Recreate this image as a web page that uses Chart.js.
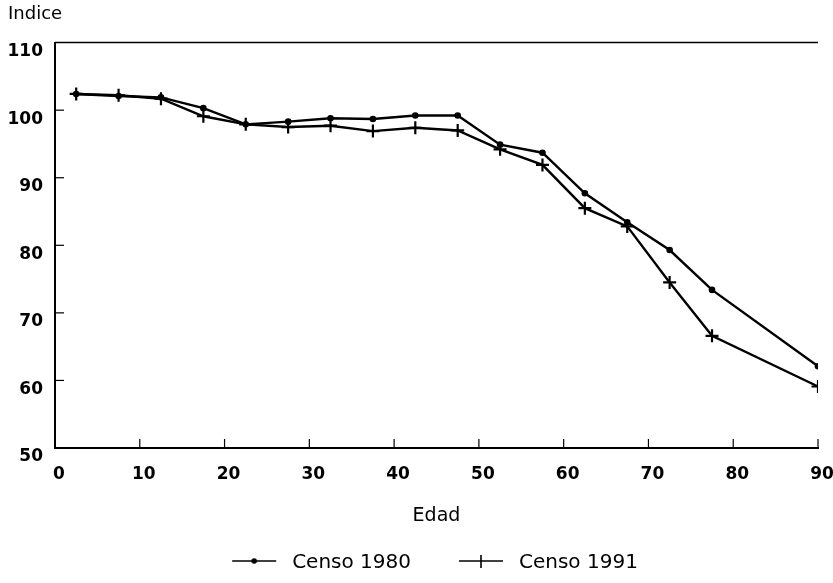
<!DOCTYPE html>
<html>
<head>
<meta charset="utf-8">
<script src="https://cdn.jsdelivr.net/npm/chart.js@4/dist/chart.umd.min.js"></script>
<style>
  html, body { margin: 0; padding: 0; background: #fff; }
  #box { width: 833px; height: 583px; }
</style>
</head>
<body>
<div id="box"><canvas id="chart"></canvas></div>
<script>
// edades (centro del grupo quinquenal) e indices
let edades = [2.5, 7.5, 12.5, 17.5, 22.5, 27.5, 32.5, 37.5, 42.5, 47.5, 52.5, 57.5, 62.5, 67.5, 72.5, 77.5, 90];
let censo1980 = [102.4, 102.1, 101.9, 100.3, 97.9, 98.3, 98.8, 98.7, 99.2, 99.2, 94.9, 93.7, 87.7, 83.4, 79.3, 73.4, 62.1];
let censo1991 = [102.4, 102.2, 101.7, 99.1, 97.9, 97.5, 97.7, 96.9, 97.4, 97.0, 94.2, 91.9, 85.5, 82.8, 74.5, 66.6, 59.1];
let ticksX = [0, 10, 20, 30, 40, 50, 60, 70, 80, 90];
let ticksY = [50, 60, 70, 80, 90, 100, 110];

Chart.defaults.font.family = "DejaVu Sans";
Chart.defaults.color = "#000";

// little pictures for the legend: line with the marker on it
// (blank strip on the left so the items sit where the original has them)
function legendMark(kind)
{
    let c = document.createElement("canvas");
    c.width = 79;
    c.height = 20;
    let g = c.getContext("2d");
    g.strokeStyle = "#000";
    g.fillStyle = "#000";
    g.lineWidth = 1.6;
    g.beginPath();
    g.moveTo(29, 8);
    g.lineTo(73, 8);
    g.stroke();
    if (kind == "circle") {
        g.beginPath();
        g.arc(51, 8, 2.8, 0, Math.PI * 2);
        g.fill();
    } else {
        g.beginPath();
        g.moveTo(51, 2);
        g.lineTo(51, 15);
        g.stroke();
    }
    return c;
}
let marks = [legendMark("circle"), legendMark("cross")];

function toPoints(vals)
{
    let out = [];
    for (let i = 0; i < edades.length; i++) {
        out.push({x: edades[i], y: vals[i]});
    }
    return out;
}

// inward ticks + top frame line
let frame = {
    id: "frame",
    afterDatasetsDraw(chart)
    {
        let ctx = chart.ctx;
        let a = chart.chartArea;
        let sx = chart.scales.x, sy = chart.scales.y;
        ctx.save();
        ctx.strokeStyle = "#000";
        ctx.lineWidth = 1.5;
        ctx.beginPath();
        ctx.moveTo(a.left, a.top);
        ctx.lineTo(a.right, a.top);
        ctx.stroke();
        ctx.lineWidth = 1.2;
        for (let v of ticksY) {
            if (v == 50 || v == 110) continue;
            let y = sy.getPixelForValue(v);
            ctx.beginPath();
            ctx.moveTo(a.left, y);
            ctx.lineTo(a.left + 9, y);
            ctx.stroke();
        }
        for (let v of ticksX) {
            if (v == 0) continue;
            let x = sx.getPixelForValue(v);
            ctx.beginPath();
            ctx.moveTo(x, a.bottom);
            ctx.lineTo(x, a.bottom - 9);
            ctx.stroke();
        }
        ctx.restore();
    }
};

let myChart = document.getElementById("chart").getContext("2d");
let display = new Chart(myChart,
{
    type: "line",
    data:
    {
        datasets: [
            {
                label: "Censo 1980",
                data: toPoints(censo1980),
                borderColor: "#000",
                backgroundColor: "#000",
                borderWidth: 2.4,
                pointStyle: "circle",
                pointRadius: 3.3,
                pointBorderWidth: 0,
                tension: 0
            },
            {
                label: "Censo 1991",
                data: toPoints(censo1991),
                borderColor: "#000",
                backgroundColor: "#000",
                borderWidth: 2.4,
                pointStyle: "cross",
                pointRadius: 6.5,
                pointBorderWidth: 2.2,
                tension: 0
            }
        ]
    },
    options:
    {
        responsive: true,
        maintainAspectRatio: false,
        animation: false,
        events: [],
        layout: { padding: { left: 8, right: 0, top: 0, bottom: 0 } },
        scales:
        {
            x: {
                type: "linear",
                min: 0,
                max: 90,
                afterBuildTicks(scale) { scale.ticks = ticksX.map(v => ({value: v})); },
                afterFit(scale) { scale.paddingRight = 15; scale.height = 86; },
                grid: { display: false, drawTicks: false },
                border: { display: true, color: "#000", width: 2 },
                ticks: { padding: 16, labelOffset: 4, font: { size: 17, weight: "bold" }, color: "#000" },
                title: { display: true, text: "Edad", font: { size: 19 }, color: "#000", padding: { top: 20, bottom: 7 } }
            },
            y: {
                min: 50,
                max: 110,
                afterBuildTicks(scale) { scale.ticks = ticksY.map(v => ({value: v})); },
                afterFit(scale) { scale.width = 47; },
                grid: { display: false, drawTicks: false },
                border: { display: true, color: "#000", width: 2 },
                ticks: { padding: 12, labelOffset: 9, font: { size: 17, weight: "bold" }, color: "#000" }
            }
        },
        plugins:
        {
            title: {
                display: true,
                text: "Indice",
                align: "start",
                font: { size: 18, weight: "normal" },
                color: "#000",
                padding: { top: 4, bottom: 17 }
            },
            legend: {
                display: true,
                position: "bottom",
                labels: {
                    usePointStyle: true,
                    pointStyleWidth: 79,
                    padding: 19,
                    font: { size: 20 },
                    color: "#000",
                    generateLabels(chart)
                    {
                        let items = Chart.defaults.plugins.legend.labels.generateLabels(chart);
                        items.forEach(function(it, i) { it.pointStyle = marks[i]; });
                        return items;
                    }
                }
            },
            tooltip: { enabled: false }
        }
    },
    plugins: [frame]
});
</script>
</body>
</html>
